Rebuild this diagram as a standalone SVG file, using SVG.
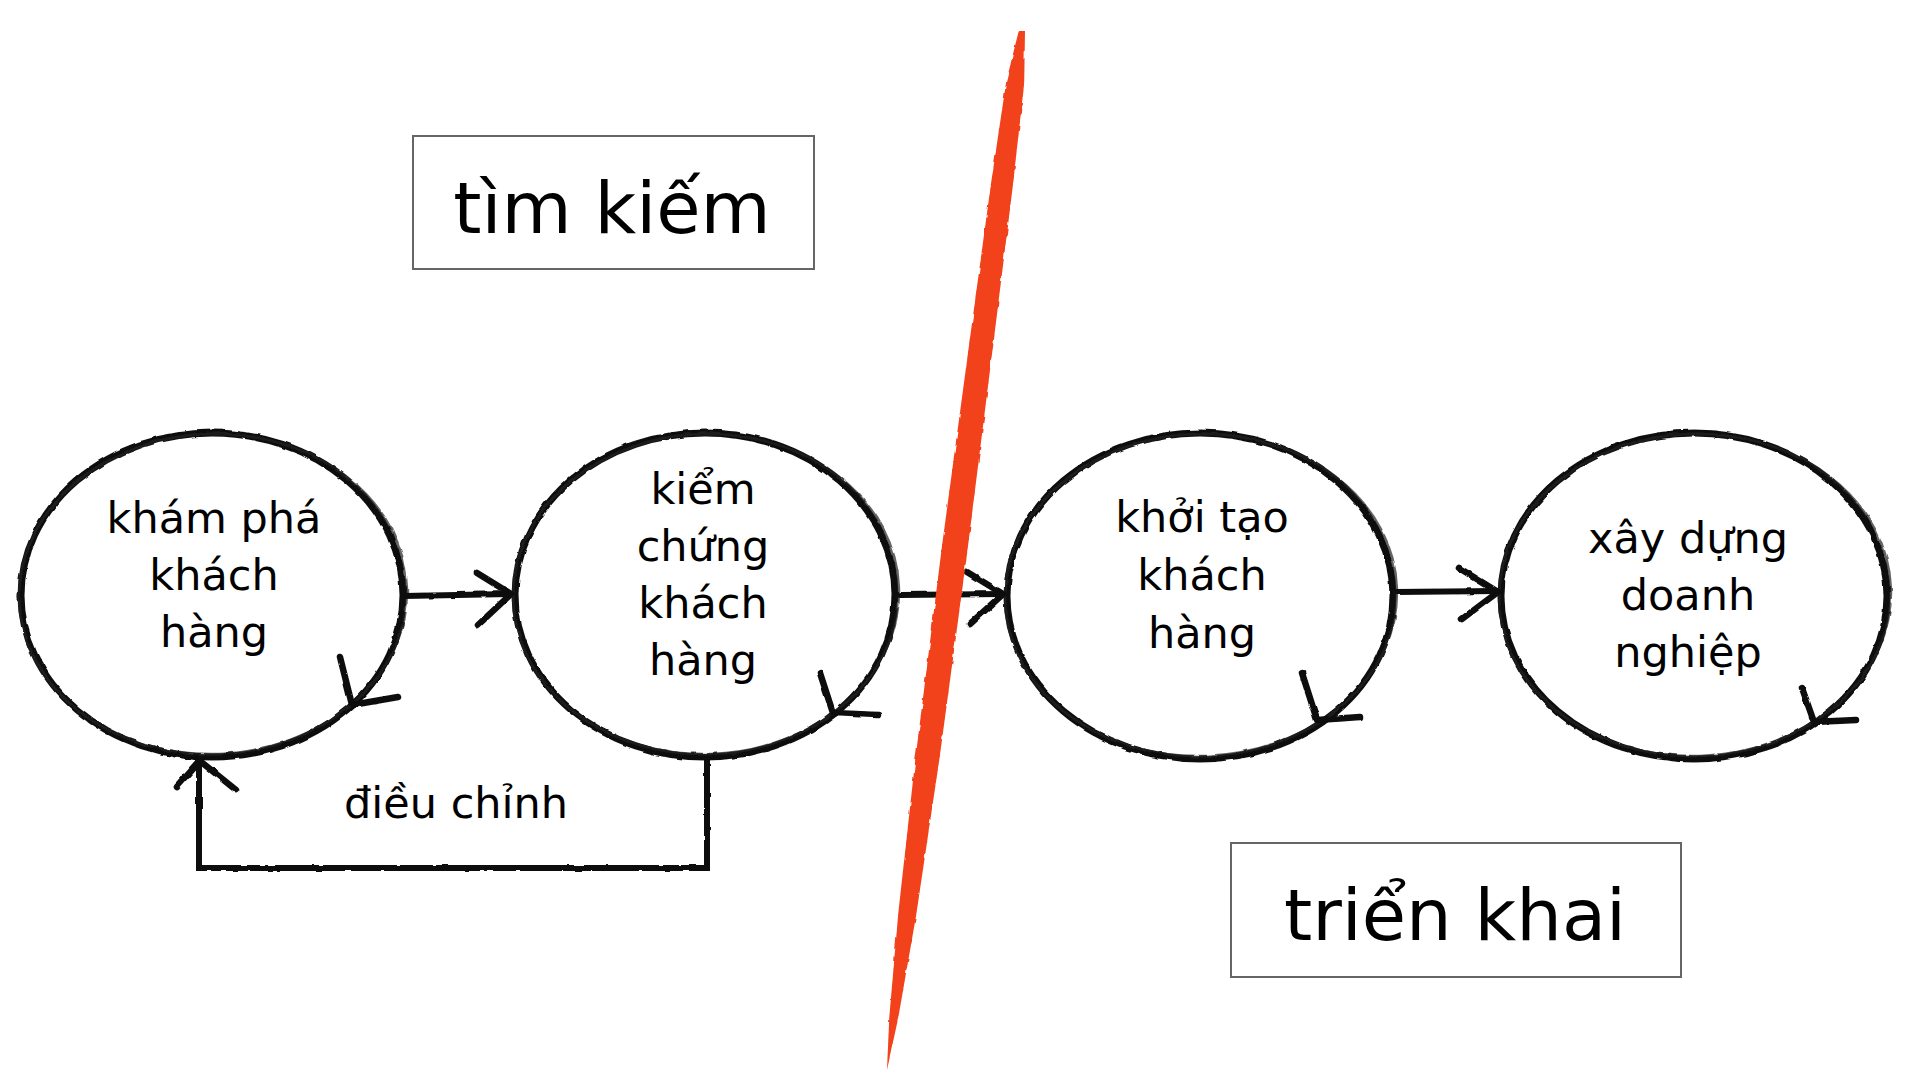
<svg xmlns="http://www.w3.org/2000/svg" width="1920" height="1080" viewBox="0 0 1920 1080">
<defs>
<style>
.bg{fill:#ffffff}
.node{fill:none;stroke:#111;stroke-width:7}
.node2{fill:none;stroke:#222;stroke-width:2.5;opacity:0.7}
.conn{fill:none;stroke:#111;stroke-width:6;stroke-linecap:round;stroke-linejoin:miter}
.head{fill:none;stroke:#111;stroke-width:6.5;stroke-linecap:round;stroke-linejoin:round}
.box{fill:#ffffff;stroke:#666;stroke-width:2}
.t{font-family:"DejaVu Sans","Liberation Sans",sans-serif;font-size:43px;fill:#000;text-anchor:middle}
.big{font-family:"DejaVu Sans","Liberation Sans",sans-serif;font-size:72px;fill:#000;text-anchor:middle}
.red{fill:#f2421c}
</style>
<filter id="rough" x="-5%" y="-5%" width="110%" height="110%">
<feTurbulence type="fractalNoise" baseFrequency="0.08" numOctaves="2" seed="3" result="n"/>
<feDisplacementMap in="SourceGraphic" in2="n" scale="3" xChannelSelector="R" yChannelSelector="G"/>
</filter>
</defs>
<rect class="bg" x="0" y="0" width="1920" height="1080"/>

<g id="box-tim-kiem">
<rect class="box" x="413" y="136" width="401" height="133"/>
<text class="big" x="612" y="233">tìm kiếm</text>
</g>

<g id="box-trien-khai">
<rect class="box" x="1231" y="843" width="450" height="134"/>
<text class="big" x="1455" y="940">triển khai</text>
</g>

<g id="node-kham-pha" filter="url(#rough)">
<ellipse class="node" cx="212" cy="595" rx="191" ry="162"/>
<ellipse class="node2" cx="213" cy="594" rx="194" ry="160" transform="rotate(-2 213 594)"/>
<polyline class="head" points="340,657 352,705 398,697"/>
</g>
<g id="node-kham-pha-label">
<text class="t" x="214" y="533">khám phá</text>
<text class="t" x="214" y="590">khách</text>
<text class="t" x="214" y="647">hàng</text>
</g>

<g id="node-kiem-chung" filter="url(#rough)">
<ellipse class="node" cx="705" cy="595" rx="190" ry="162"/>
<ellipse class="node2" cx="706" cy="594" rx="193" ry="160" transform="rotate(-2 706 594)"/>
<polyline class="head" points="820,673 833,713 878,715"/>
</g>
<g id="node-kiem-chung-label">
<text class="t" x="703" y="504">kiểm</text>
<text class="t" x="703" y="561">chứng</text>
<text class="t" x="703" y="618">khách</text>
<text class="t" x="703" y="675">hàng</text>
</g>

<g id="node-khoi-tao" filter="url(#rough)">
<ellipse class="node" cx="1200" cy="596" rx="193" ry="163"/>
<ellipse class="node2" cx="1201" cy="595" rx="196" ry="161" transform="rotate(-2 1201 595)"/>
<polyline class="head" points="1302,673 1317,720 1360,717"/>
</g>
<g id="node-khoi-tao-label">
<text class="t" x="1202" y="532">khởi tạo</text>
<text class="t" x="1202" y="590">khách</text>
<text class="t" x="1202" y="648">hàng</text>
</g>

<g id="node-xay-dung" filter="url(#rough)">
<ellipse class="node" cx="1694" cy="596" rx="193" ry="163"/>
<ellipse class="node2" cx="1695" cy="595" rx="196" ry="161" transform="rotate(-2 1695 595)"/>
<polyline class="head" points="1802,688 1814,722 1856,720"/>
</g>
<g id="node-xay-dung-label">
<text class="t" x="1688" y="553">xây dựng</text>
<text class="t" x="1688" y="610">doanh</text>
<text class="t" x="1688" y="667">nghiệp</text>
</g>

<g id="connectors" filter="url(#rough)">
<line class="conn" x1="404" y1="596" x2="510" y2="594"/>
<polyline class="head" points="477,573 511,594 478,625"/>
<line class="conn" x1="900" y1="595" x2="1002" y2="594"/>
<polyline class="head" points="967,572 1003,594 970,624"/>
<line class="conn" x1="1396" y1="592" x2="1497" y2="591"/>
<polyline class="head" points="1459,568 1498,592 1462,619"/>
<polyline class="conn" points="707,760 707,868 199,868 199,762"/>
<polyline class="head" points="177,787 200,761 236,790"/>
</g>
<g id="label-dieu-chinh">
<text class="t" x="456" y="818">điều chỉnh</text>
</g>

<g id="divider" filter="url(#rough)">
<polygon class="red" points="1025,30 1024.2,83 1012.7,187 993.4,343 967.4,551 939.4,759 916.2,915 898.2,1018 887,1070 889.3,1017 898.3,913 915.6,757 941.6,549 969.6,341 990.8,185 1006.3,81 1019,30"/>
</g>
</svg>
